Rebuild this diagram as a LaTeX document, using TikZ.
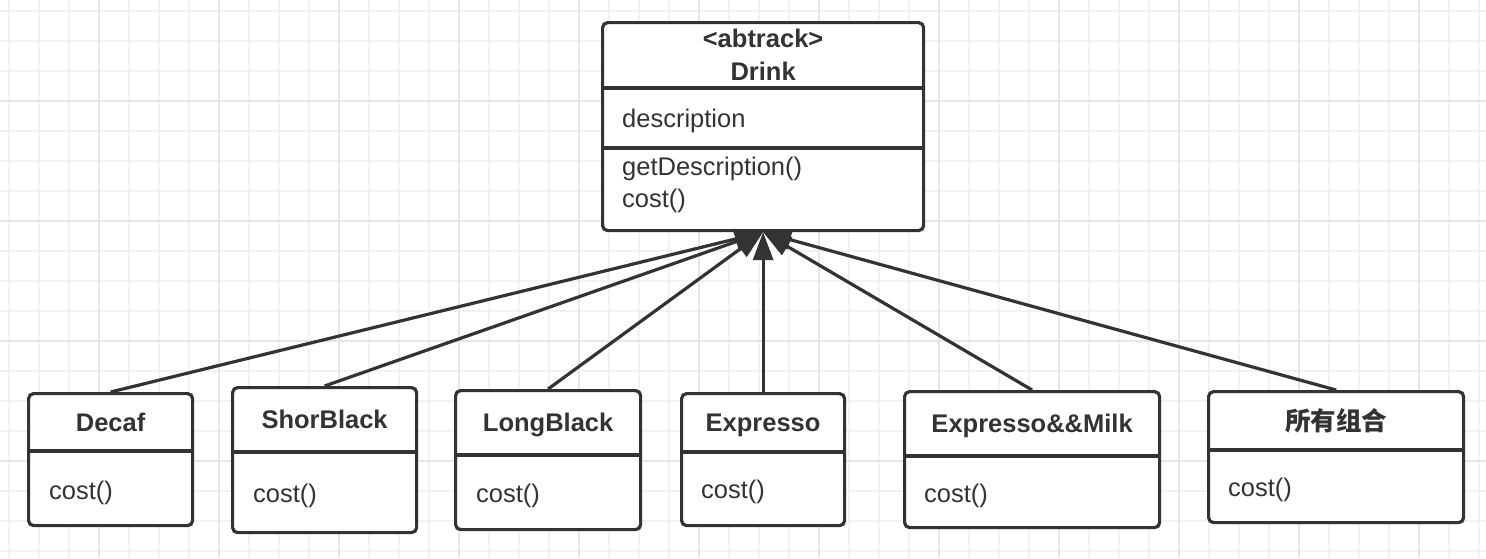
\documentclass[tikz,border=0pt]{standalone}
\usepackage{fontspec}
\setmainfont{Liberation Sans}
\newfontfamily\cjk{Noto Sans CJK SC}
\usetikzlibrary{positioning,arrows.meta}
\definecolor{ink}{HTML}{333333}
\definecolor{gridminor}{HTML}{F2F2F2}
\definecolor{gridmajor}{HTML}{E6E6E6}

\begin{document}
\begin{tikzpicture}[x=1pt,y=-1pt,
  classbox/.style={draw=ink,line width=3.2pt,rounded corners=5pt,fill=white,anchor=north west,inner sep=0pt},
  classname/.style={font=\fontsize{25.5}{30}\selectfont\bfseries,text=ink,anchor=base,inner sep=0pt},
  member/.style={font=\fontsize{25.5}{30}\selectfont,text=ink,anchor=base west,inner sep=0pt},
  divider/.style={draw=ink,line width=3.2pt,shorten <=1.6pt,shorten >=1.6pt},
  inherit/.style={draw=ink,line width=3.2pt,-{Triangle[length=28pt,width=20pt]}},
  gridline/.style={draw=gridminor,line width=1.6pt},
  gridmain/.style={draw=gridmajor,line width=1.6pt}]
\fill[white] (0,0) rectangle (1486,558);
\useasboundingbox (0,0) rectangle (1486,558);
% background grid
\foreach \gx [evaluate=\gx as \px using 9+30*\gx] in {0,...,49}
  \draw[gridline] (\px,0) -- (\px,558);
\foreach \gy [evaluate=\gy as \py using 11+30*\gy] in {0,...,18}
  \draw[gridline] (0,\py) -- (1486,\py);
\foreach \px in {99,219,...,1419}
  \draw[gridmain] (\px,0) -- (\px,558);
\foreach \py in {101,221,341,461}
  \draw[gridmain] (0,\py) -- (1486,\py);

% abstract class
\node[classbox,minimum width=321pt,minimum height=208pt] (drink) at (601,21) {};
\node[classname] (drinkstereo) at ([yshift=-26pt]drink.north) {<abtrack>};
\node[classname] (drinkname) at ([yshift=-59pt]drink.north) {Drink};
\draw[divider] ([yshift=-67pt]drink.north west) -- ([yshift=-67pt]drink.north east);
\node[member] (drinkattr) at ([xshift=21pt,yshift=-106pt]drink.north west) {description};
\draw[divider] ([yshift=-127pt]drink.north west) -- ([yshift=-127pt]drink.north east);
\node[member] (drinkget) at ([xshift=21pt,yshift=-154pt]drink.north west) {getDescription()};
\node[member] (drinkcost) at ([xshift=21pt,yshift=-186pt]drink.north west) {cost()};

% subclasses
\node[classbox,minimum width=164pt,minimum height=132pt] (decaf) at (27,392) {};
\node[classname] (decafname) at ([yshift=-39pt]decaf.north) {Decaf};
\draw[divider] ([yshift=-59pt]decaf.north west) -- ([yshift=-59pt]decaf.north east);
\node[member] (decafcost) at ([xshift=22pt,yshift=-107pt]decaf.north west) {cost()};

\node[classbox,minimum width=184pt,minimum height=145pt] (shortblack) at (231,386) {};
\node[classname] (shortblackname) at ([yshift=-42pt]shortblack.north) {ShorBlack};
\draw[divider] ([yshift=-66pt]shortblack.north west) -- ([yshift=-66pt]shortblack.north east);
\node[member] (shortblackcost) at ([xshift=22pt,yshift=-116pt]shortblack.north west) {cost()};

\node[classbox,minimum width=185pt,minimum height=139pt] (longblack) at (454,389) {};
\node[classname] (longblackname) at ([yshift=-42pt]longblack.north) {LongBlack};
\draw[divider] ([yshift=-66pt]longblack.north west) -- ([yshift=-66pt]longblack.north east);
\node[member] (longblackcost) at ([xshift=22pt,yshift=-113pt]longblack.north west) {cost()};

\node[classbox,minimum width=163pt,minimum height=132pt] (expresso) at (680,392) {};
\node[classname] (expressoname) at ([yshift=-39pt]expresso.north) {Expresso};
\draw[divider] ([yshift=-60pt]expresso.north west) -- ([yshift=-60pt]expresso.north east);
\node[member] (expressocost) at ([xshift=21pt,yshift=-106pt]expresso.north west) {cost()};

\node[classbox,minimum width=255pt,minimum height=136pt] (milk) at (903,390) {};
\node[classname] (milkname) at ([yshift=-42pt]milk.north) {Expresso\&\&Milk};
\draw[divider] ([yshift=-66pt]milk.north west) -- ([yshift=-66pt]milk.north east);
\node[member] (milkcost) at ([xshift=21pt,yshift=-112pt]milk.north west) {cost()};

\node[classbox,minimum width=255pt,minimum height=131pt] (combo) at (1207,390) {};
\node[classname] (comboname) at ([yshift=-40pt]combo.north) {\cjk 所有组合};
\draw[divider] ([yshift=-60pt]combo.north west) -- ([yshift=-60pt]combo.north east);
\node[member] (combocost) at ([xshift=21pt,yshift=-106pt]combo.north west) {cost()};

% inheritance
\draw[inherit] (decaf.north) -- (drink.south);
\draw[inherit] (shortblack.north) -- (drink.south);
\draw[inherit] (longblack.north) -- (drink.south);
\draw[inherit] (expresso.north) -- (drink.south);
\draw[inherit] (milk.north) -- (drink.south);
\draw[inherit] (combo.north) -- (drink.south);
\end{tikzpicture}
\end{document}
